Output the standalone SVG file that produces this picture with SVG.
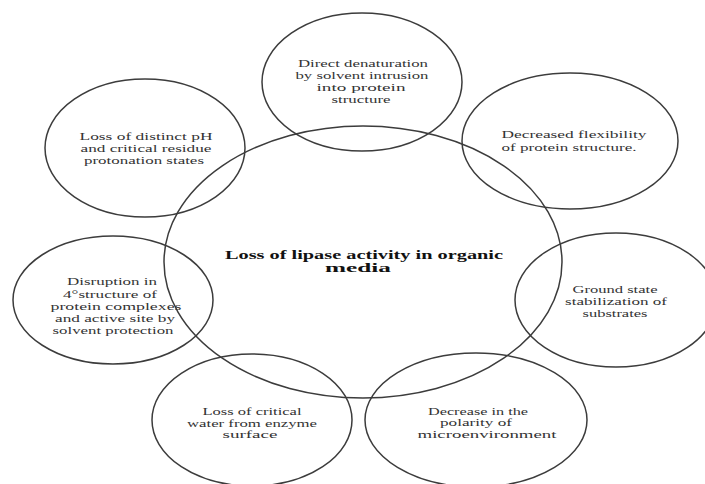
<svg xmlns="http://www.w3.org/2000/svg" width="705" height="484" viewBox="0 0 705 484">
<style>
.n{fill:none;stroke:#3c3c3c;stroke-width:1.5}
.t{font-family:"Liberation Serif","Times New Roman",serif;font-size:10.5px;fill:#333;text-anchor:middle}
.s{font-size:10px}
.b{font-family:"Liberation Serif","Times New Roman",serif;font-size:12px;font-weight:bold;fill:#111;text-anchor:middle}
</style>
<rect width="705" height="484" fill="#fff"/>
<g id="connectors"/>
<g id="center">
<ellipse class="n" cx="363" cy="262" rx="199" ry="136"/>
<text class="b" x="364" y="259" textLength="278" lengthAdjust="spacingAndGlyphs">Loss of lipase activity in organic</text>
<text class="b" x="358" y="272" textLength="66" lengthAdjust="spacingAndGlyphs">media</text>
</g>
<g id="n-top">
<ellipse class="n" cx="362" cy="82" rx="100" ry="69"/>
<text class="t" x="363" y="67" textLength="130" lengthAdjust="spacingAndGlyphs">Direct denaturation</text>
<text class="t" x="362" y="79" textLength="133" lengthAdjust="spacingAndGlyphs">by solvent intrusion</text>
<text class="t" x="361" y="91" textLength="89" lengthAdjust="spacingAndGlyphs">into protein</text>
<text class="t" x="361" y="103" textLength="59" lengthAdjust="spacingAndGlyphs">structure</text>
</g>
<g id="n-flex">
<ellipse class="n" cx="570" cy="141" rx="108" ry="68"/>
<text class="t" x="574" y="138" textLength="145" lengthAdjust="spacingAndGlyphs">Decreased flexibility</text>
<text class="t" x="569" y="151" textLength="135" lengthAdjust="spacingAndGlyphs">of  protein structure.</text>
</g>
<g id="n-ground">
<ellipse class="n" cx="616" cy="300" rx="101" ry="67"/>
<text class="t" x="615" y="293" textLength="85" lengthAdjust="spacingAndGlyphs">Ground state</text>
<text class="t" x="616" y="305" textLength="102" lengthAdjust="spacingAndGlyphs">stabilization of</text>
<text class="t" x="615" y="317" textLength="65" lengthAdjust="spacingAndGlyphs">substrates</text>
</g>
<g id="n-polarity">
<ellipse class="n" cx="476" cy="420" rx="111" ry="67"/>
<text class="t s" x="478" y="414.5" textLength="100" lengthAdjust="spacingAndGlyphs">Decrease in the</text>
<text class="t s" x="476" y="426" textLength="72" lengthAdjust="spacingAndGlyphs">polarity of</text>
<text class="t s" x="487" y="437.5" textLength="139" lengthAdjust="spacingAndGlyphs">microenvironment</text>
</g>
<g id="n-water">
<ellipse class="n" cx="252" cy="420" rx="100" ry="66"/>
<text class="t s" x="252" y="415" textLength="99" lengthAdjust="spacingAndGlyphs">Loss of critical</text>
<text class="t s" x="252" y="426.5" textLength="130" lengthAdjust="spacingAndGlyphs">water from enzyme</text>
<text class="t s" x="250" y="438" textLength="55" lengthAdjust="spacingAndGlyphs">surface</text>
</g>
<g id="n-disruption">
<ellipse class="n" cx="113" cy="300" rx="100" ry="64"/>
<text class="t" x="112" y="285" textLength="90" lengthAdjust="spacingAndGlyphs">Disruption in</text>
<text class="t" x="110" y="297.5" textLength="94" lengthAdjust="spacingAndGlyphs">4°structure of</text>
<text class="t" x="116" y="310" textLength="131" lengthAdjust="spacingAndGlyphs">protein complexes</text>
<text class="t" x="115" y="322" textLength="120" lengthAdjust="spacingAndGlyphs">and active site by</text>
<text class="t" x="113" y="334" textLength="121" lengthAdjust="spacingAndGlyphs">solvent protection</text>
</g>
<g id="n-ph">
<ellipse class="n" cx="145" cy="148" rx="100" ry="69"/>
<text class="t" x="146" y="140" textLength="133" lengthAdjust="spacingAndGlyphs">Loss of distinct pH</text>
<text class="t" x="146" y="152" textLength="131" lengthAdjust="spacingAndGlyphs">and critical residue</text>
<text class="t" x="144" y="164" textLength="120" lengthAdjust="spacingAndGlyphs">protonation states</text>
</g>
</svg>
